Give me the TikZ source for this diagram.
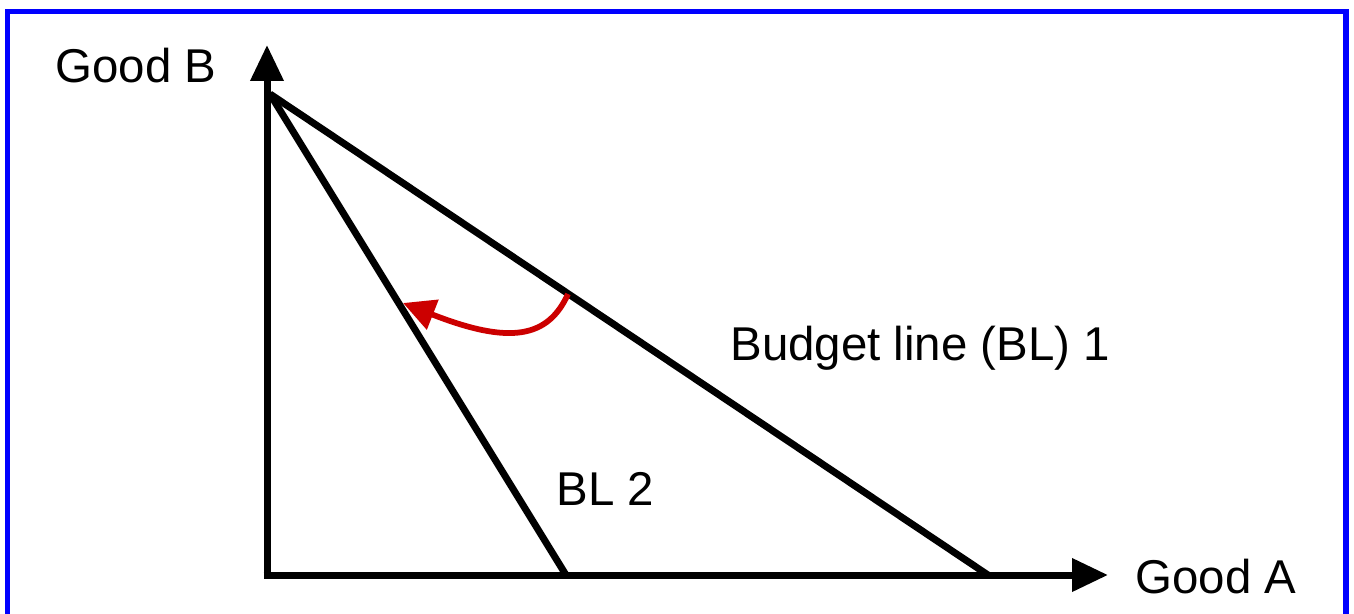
\documentclass[tikz,border=0pt]{standalone}
\usepackage{fontspec}
\setmainfont{Liberation Sans}
\usetikzlibrary{arrows.meta}

\begin{document}
\begin{tikzpicture}[
        x=0.02cm, y=0.02cm,
        axis/.style={-{Triangle[length=0.72cm, width=0.64cm]}, line width=0.14cm},
        budget/.style={line width=0.14cm},
        turnarrow/.style={-{Triangle[length=0.64cm, width=0.62cm]}, line width=0.115cm, color=shiftred},
        lbl/.style={inner sep=0pt, anchor=base west, font=\fontsize{27}{31}\selectfont}
    ]
        \definecolor{shiftred}{RGB}{204,0,0}
        \useasboundingbox (0,0) rectangle (1354,613);
        \clip (0,0) rectangle (1354,613);

        % Rahmen
        \draw[blue, line width=0.11cm] (7.5,-20) rectangle (1346,601.5);

        % Achsen
        \coordinate (origin) at (267,38);
        \coordinate (ytip) at (267,568);
        \coordinate (xtip) at (1108,38);
        \draw[axis] ([yshift=-0.07cm]origin) -- (ytip);
        \draw[axis] ([xshift=-0.07cm]origin) -- (xtip);

        % Budgetgeraden
        \coordinate (apex) at (270,519);
        \coordinate (bl1end) at (988,38);
        \coordinate (bl2end) at (566,38);
        \draw[budget] (apex) -- (bl1end);
        \draw[budget] (apex) -- (bl2end);

        % Drehung der Budgetgeraden
        \coordinate (turnstart) at (568,319);
        \coordinate (turnend) at (403,310);
        \draw[turnarrow] (turnstart) .. controls (548,275) and (510,268) .. (turnend);

        % Beschriftungen
        \node[lbl] (goodb) at (55,530) {Good B};
        \node[lbl] (gooda) at (1135,20) {Good A};
        \node[lbl] (bl1) at (730,253) {Budget line (BL) 1};
        \node[lbl] (bl2) at (556,108) {BL 2};
    \end{tikzpicture}
\end{document}
